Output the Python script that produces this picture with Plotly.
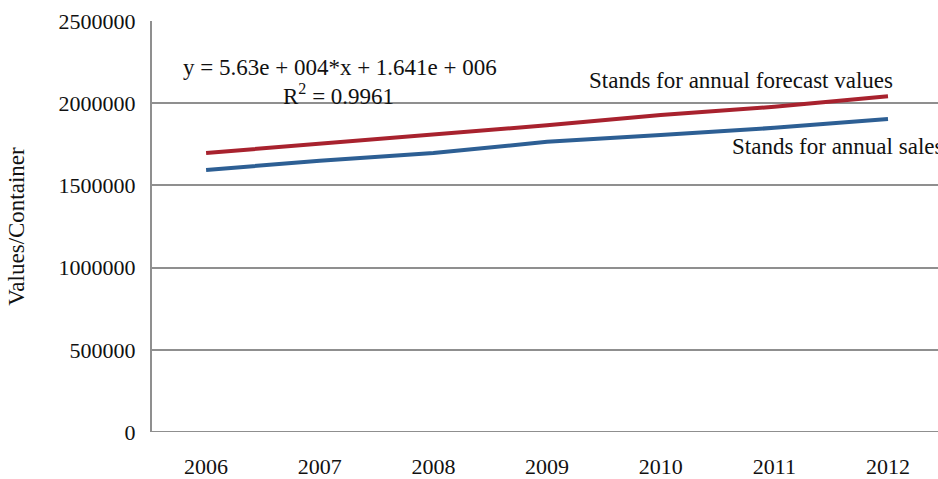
import plotly.graph_objects as go

years = ["2006", "2007", "2008", "2009", "2010", "2011", "2012"]
forecast = [1697000, 1753000, 1808000, 1866000, 1928000, 1978000, 2042000]
sales = [1594000, 1650000, 1697000, 1765000, 1807000, 1850000, 1904000]
y_ticks = [0, 500000, 1000000, 1500000, 2000000, 2500000]

FONT = "Liberation Serif, Times New Roman, serif"
GRID = "#8f8f8f"
INK = "#111111"

fig = go.Figure()
fig.add_trace(go.Scatter(x=years, y=forecast, mode="lines",
                         line=dict(color="#a8222e", width=4), name="forecast"))
fig.add_trace(go.Scatter(x=years, y=sales, mode="lines",
                         line=dict(color="#2d5f94", width=4), name="sales"))

fig.update_layout(
    width=938, height=479,
    margin=dict(l=152, r=0, t=21, b=47),
    paper_bgcolor="white", plot_bgcolor="white",
    showlegend=False,
    font=dict(family=FONT, size=22, color=INK),
    xaxis=dict(type="category", range=[-0.476, 6.44],
               showgrid=False, showline=False, zeroline=False,
               ticks="", ticklabelstandoff=19, automargin=False,
               tickfont=dict(size=22)),
    yaxis=dict(range=[0, 2500000], tickvals=y_ticks,
               ticktext=[str(v) for v in y_ticks],
               showgrid=True, gridcolor=GRID, gridwidth=1.6,
               showline=True, linecolor=GRID, linewidth=2,
               zeroline=False, ticks="", ticklabelstandoff=10,
               automargin=False,
               tickfont=dict(size=22),
               title=dict(text="Values/Container", standoff=28,
                          font=dict(size=23))),
)
# bottom axis line
fig.add_shape(type="line", xref="paper", yref="y", x0=0, x1=1, y0=0, y1=0,
              line=dict(color=GRID, width=2))


def note(text, xpx, ypx, anchor="center"):
    fig.add_annotation(text=text, xref="paper", yref="paper",
                       x=(xpx - 152) / (938 - 152), y=(432 - ypx) / (432 - 21),
                       xanchor=anchor, yanchor="middle", showarrow=False,
                       font=dict(family=FONT, size=23, color=INK))


note("y = 5.63e + 004*x + 1.641e + 006", 340, 68)
note("R<sup>2</sup> = 0.9961", 338, 94)
note("Stands for annual forecast values", 587, 80, "left")
note("Stands for annual sales", 730, 146, "left")

fig.write_html("out.html")
